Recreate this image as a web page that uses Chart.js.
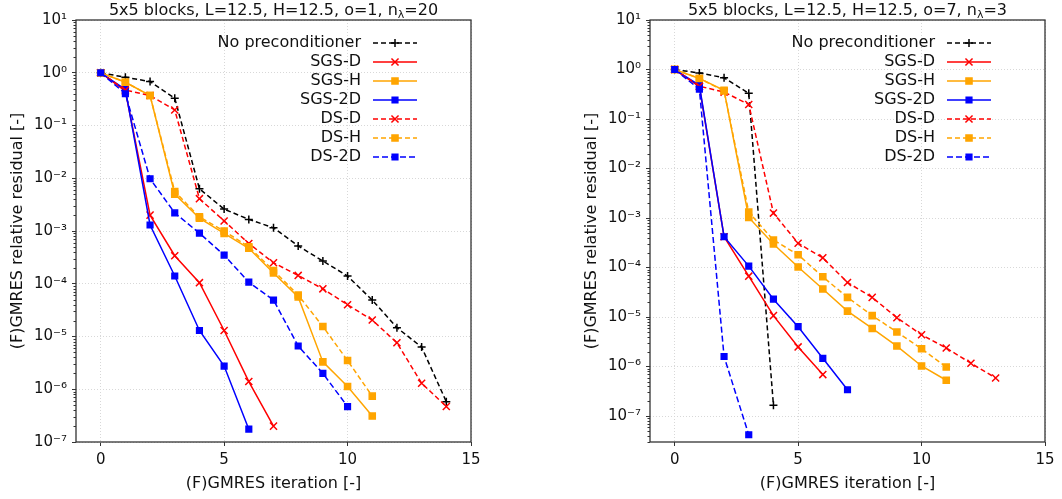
<!DOCTYPE html>
<html><head><meta charset="utf-8">
<script src="https://cdn.jsdelivr.net/npm/chart.js@4"></script>
<style>
html,body{margin:0;padding:0;background:#fff;width:1062px;height:499px;overflow:hidden;}
canvas{position:absolute;top:0;}
#c1{left:0;} #c2{left:574px;}
</style></head><body>
<canvas id="c1" width="574" height="499"></canvas>
<canvas id="c2" width="488" height="499"></canvas>
<script>
// ---- data ----
const seriesNames = ['No preconditioner','SGS-D','SGS-H','SGS-2D','DS-D','DS-H','DS-2D'];
const xTickValues = [0,5,10,15];
const yTickExpsLeft = [1,0,-1,-2,-3,-4,-5,-6,-7];
const yTickExpsRight = [1,0,-1,-2,-3,-4,-5,-6,-7];

// left: o=1, n_lambda=20
const noPrecL = [1, 0.82, 0.68, 0.33, 6.3e-3, 2.6e-3, 1.66e-3, 1.15e-3, 5.2e-4, 2.7e-4, 1.4e-4, 4.9e-5, 1.47e-5, 6.3e-6, 5.8e-7];
const sgsDL   = [1, 0.45, 2.0e-3, 3.4e-4, 1.05e-4, 1.3e-5, 1.4e-6, 2.0e-7];
const sgsHL   = [1, 0.66, 0.37, 5.0e-3, 1.75e-3, 9.0e-4, 4.7e-4, 1.6e-4, 5.6e-5, 3.3e-6, 1.13e-6, 3.1e-7];
const sgs2DL  = [1, 0.48, 1.3e-3, 1.4e-4, 1.3e-5, 2.75e-6, 1.75e-7];
const dsDL    = [1, 0.47, 0.37, 0.197, 4.1e-3, 1.55e-3, 5.8e-4, 2.5e-4, 1.44e-4, 8.0e-5, 4.0e-5, 2.05e-5, 7.6e-6, 1.3e-6, 4.7e-7];
const dsHL    = [1, 0.66, 0.37, 5.6e-3, 1.85e-3, 1.0e-3, 5.0e-4, 1.78e-4, 6.1e-5, 1.55e-5, 3.5e-6, 7.4e-7];
const ds2DL   = [1, 0.40, 9.8e-3, 2.2e-3, 9.1e-4, 3.5e-4, 1.07e-4, 4.9e-5, 6.6e-6, 2.0e-6, 4.7e-7];

// right: o=7, n_lambda=3
const noPrecR = [1, 0.85, 0.68, 0.33, 1.66e-7];
const sgsDR   = [1, 0.45, 4.2e-4, 6.7e-5, 1.07e-5, 2.5e-6, 6.9e-7];
const sgsHR   = [1, 0.66, 0.38, 1.03e-3, 3.0e-4, 1.03e-4, 3.7e-5, 1.32e-5, 5.9e-6, 2.6e-6, 1.03e-6, 5.3e-7];
const sgs2DR  = [1, 0.48, 4.2e-4, 1.07e-4, 2.3e-5, 6.4e-6, 1.47e-6, 3.4e-7];
const dsDR    = [1, 0.46, 0.35, 0.197, 1.26e-3, 3.1e-4, 1.57e-4, 5.0e-5, 2.5e-5, 9.7e-6, 4.4e-6, 2.37e-6, 1.17e-6, 5.9e-7];
const dsHR    = [1, 0.66, 0.37, 1.32e-3, 3.6e-4, 1.82e-4, 6.5e-5, 2.5e-5, 1.07e-5, 5.0e-6, 2.3e-6, 9.8e-7];
const ds2DR   = [1, 0.40, 1.6e-6, 4.2e-8];

// ---- styles ----
const styles = [
  {color:'#000000', dash:[5,3], point:'cross', r:4},
  {color:'#ff0000', dash:[],    point:'crossRot', r:5},
  {color:'#ffa500', dash:[],    point:'rect', r:4.3},
  {color:'#0000ff', dash:[],    point:'rect', r:4},
  {color:'#ff0000', dash:[5,3], point:'crossRot', r:5},
  {color:'#ffa500', dash:[5,3], point:'rect', r:4.3},
  {color:'#0000ff', dash:[6,3], point:'rect', r:4}
];

const SUP = {'0':'\u2070','1':'\u00b9','2':'\u00b2','3':'\u00b3','4':'\u2074','5':'\u2075','6':'\u2076','7':'\u2077','8':'\u2078','9':'\u2079','-':'\u207b'};
function supLabel(e){ return '10' + String(e).split('').map(c=>SUP[c]).join(''); }

const FONT = 'DejaVu Sans';

const framePlugin = {
  id:'frame',
  afterDraw(chart, args, opts){
    const ctx = chart.ctx, a = chart.chartArea;
    const ys = chart.scales.y;
    ctx.save();
    // minor ticks on log axis
    ctx.strokeStyle = '#333'; ctx.lineWidth = 1;
    const lo = Math.floor(Math.log10(ys.min)), hi = Math.ceil(Math.log10(ys.max));
    for (let e = lo; e < hi; e++) {
      for (let k = 2; k <= 9; k++) {
        const v = k * Math.pow(10, e);
        if (v < ys.min || v > ys.max) continue;
        const py = Math.round(ys.getPixelForValue(v)) + 0.5;
        ctx.beginPath(); ctx.moveTo(a.left - 2.5, py); ctx.lineTo(a.left, py); ctx.stroke();
      }
    }
    // frame
    ctx.strokeStyle = '#333'; ctx.lineWidth = 1.3;
    ctx.strokeRect(a.left, a.top, a.right - a.left, a.bottom - a.top);
    // title with subscript
    const t = opts.title;
    ctx.fillStyle = '#111';
    ctx.textBaseline = 'alphabetic';
    const big = '16px "' + FONT + '"', small = '11px "' + FONT + '"';
    ctx.font = big; const w1 = ctx.measureText(t[0]).width;
    ctx.font = small; const w2 = ctx.measureText(t[1]).width;
    ctx.font = big; const w3 = ctx.measureText(t[2]).width;
    let x = (a.left + a.right) / 2 - (w1 + w2 + w3) / 2;
    const by = 15;
    ctx.textAlign = 'left';
    ctx.font = big; ctx.fillText(t[0], x, by); x += w1;
    ctx.font = small; ctx.fillText(t[1], x, by + 3); x += w2;
    ctx.font = big; ctx.fillText(t[2], x, by);
    // legend
    ctx.font = '16px "' + FONT + '"';
    ctx.textAlign = 'right'; ctx.textBaseline = 'middle';
    chart.data.datasets.forEach((ds, i) => {
      const st = styles[i];
      const yy = a.top + 23 + i * 19;
      ctx.fillStyle = '#111';
      ctx.fillText(ds.label, a.right - 110, yy);
      ctx.strokeStyle = st.color; ctx.lineWidth = 1.5; ctx.setLineDash(st.dash);
      ctx.beginPath(); ctx.moveTo(a.right - 98, yy); ctx.lineTo(a.right - 54, yy); ctx.stroke();
      ctx.setLineDash([]);
      ctx.fillStyle = st.color; ctx.strokeStyle = st.color; ctx.lineWidth = 1.5;
      Chart.helpers.drawPoint(ctx, {pointStyle: st.point, radius: st.r, rotation: 0, borderWidth: 1.5}, a.right - 76, yy);
    });
    ctx.restore();
  }
};

function makeChart(id, seriesArr, yMin, tickExps, padRight, title){
  const datasets = seriesArr.map((arr, i) => ({
    label: seriesNames[i],
    data: arr.map((v, k) => ({x: k, y: v})),
    borderColor: styles[i].color,
    backgroundColor: styles[i].color,
    borderWidth: 1.5,
    borderDash: styles[i].dash,
    pointStyle: styles[i].point,
    pointRadius: styles[i].r,
    pointBorderWidth: 1.5,
    pointBorderColor: styles[i].color,
    pointBackgroundColor: styles[i].color,
    tension: 0,
    order: seriesArr.length - i
  }));
  return new Chart(document.getElementById(id), {
    type: 'line',
    data: {datasets},
    options: {
      responsive: false, animation: false, devicePixelRatio: 1,
      layout: {padding: {left: 0, right: padRight, top: 20, bottom: 0}},
      plugins: {legend: {display: false}, title: {display: false}, tooltip: {enabled: false}, frame: {title}},
      scales: {
        x: {
          type: 'linear', min: -1, max: 15,
          afterBuildTicks: s => { s.ticks = xTickValues.map(v => ({value: v})); },
          afterFit: s => { s.height = 57; },
          grid: {color: '#d8d8d8', lineWidth: 1, tickLength: 4, tickColor: '#333', tickWidth: 1},
          border: {display: false, dash: [1, 2]},
          ticks: {font: {family: FONT, size: 15}, color: '#111', padding: 5, maxRotation: 0, callback: v => String(v)},
          title: {display: true, text: '(F)GMRES iteration [-]', font: {family: FONT, size: 16}, color: '#111', padding: {top: 0, bottom: 6}}
        },
        y: {
          type: 'logarithmic', min: yMin, max: 10,
          afterBuildTicks: s => { s.ticks = tickExps.map(e => ({value: Math.pow(10, e)})); },
          afterFit: s => { s.width = 76; },
          grid: {color: '#d8d8d8', lineWidth: 1, tickLength: 4, tickColor: '#333', tickWidth: 1},
          border: {display: false, dash: [1, 2]},
          ticks: {font: {family: FONT, size: 15}, color: '#111', padding: 5, callback: v => supLabel(Math.round(Math.log10(v)))},
          title: {display: true, text: '(F)GMRES relative residual [-]', font: {family: FONT, size: 16}, color: '#111', padding: {top: 8, bottom: 0}}
        }
      }
    },
    plugins: [framePlugin]
  });
}

makeChart('c1', [noPrecL, sgsDL, sgsHL, sgs2DL, dsDL, dsHL, ds2DL], 1e-7, yTickExpsLeft, 103,
  ['5x5 blocks, L=12.5, H=12.5, o=1, n', '\u03bb', '=20']);
makeChart('c2', [noPrecR, sgsDR, sgsHR, sgs2DR, dsDR, dsHR, ds2DR], Math.pow(10, -7.5), yTickExpsRight, 17,
  ['5x5 blocks, L=12.5, H=12.5, o=7, n', '\u03bb', '=3']);
</script>
</body></html>
